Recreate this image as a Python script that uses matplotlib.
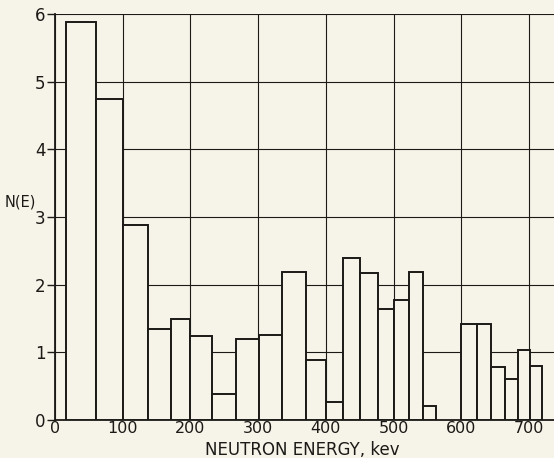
import matplotlib
matplotlib.use("Agg")
import matplotlib.pyplot as plt

# bin edges (keV) and N(E)
bin_left = [16, 60, 100, 138, 171, 200, 232, 268, 301, 335, 371, 400, 425,
            451, 477, 501, 523, 543, 600, 623, 644, 665, 684, 701]
bin_right = [60, 100, 138, 171, 200, 232, 268, 301, 335, 371, 400, 425, 451,
             477, 501, 523, 543, 563, 623, 644, 665, 684, 701, 719]
n_e = [5.89, 4.75, 2.88, 1.34, 1.49, 1.24, 0.39, 1.20, 1.25, 2.19, 0.88, 0.27,
       2.40, 2.18, 1.64, 1.77, 2.19, 0.21, 1.42, 1.42, 0.78, 0.61, 1.04, 0.80]

x_ticks = [0, 100, 200, 300, 400, 500, 600, 700]
y_ticks = [0, 1, 2, 3, 4, 5, 6]

paper = '#f6f3e8'
ink = '#1c1a17'

fig = plt.figure(figsize=(5.54, 4.58), dpi=100, facecolor=paper)
ax = fig.add_axes([0.0993, 0.083, 0.9007, 0.886], facecolor=paper)

widths = [r - l for l, r in zip(bin_left, bin_right)]
ax.bar(bin_left, n_e, width=widths, align='edge', facecolor=paper,
       edgecolor=ink, linewidth=1.4, zorder=3)

ax.set_xlim(0, 737)
ax.set_ylim(0, 6)
ax.set_xticks(x_ticks)
ax.set_yticks(y_ticks)
ax.set_xticklabels([str(v) for v in x_ticks])
ax.set_yticklabels([str(v) for v in y_ticks])
ax.grid(True, color=ink, linewidth=0.8, zorder=1)

for side in ['top', 'right']:
    ax.spines[side].set_visible(False)
for side in ['left', 'bottom']:
    ax.spines[side].set_color(ink)
    ax.spines[side].set_linewidth(1.3)

ax.tick_params(axis='x', length=0, pad=1, labelsize=11.5, colors=ink)
ax.tick_params(axis='y', length=6, width=1.0, pad=1, labelsize=12,
               colors=ink)

fig.text(302 / 554, 1 - 450 / 458, 'NEUTRON ENERGY, kev', ha='center',
         va='center', fontsize=12, color=ink)
fig.text(5 / 554, 1 - 202 / 458, 'N(E)', ha='left', va='center',
         fontsize=10.5, color=ink)

fig.savefig('out.png', dpi=100, facecolor=paper)
